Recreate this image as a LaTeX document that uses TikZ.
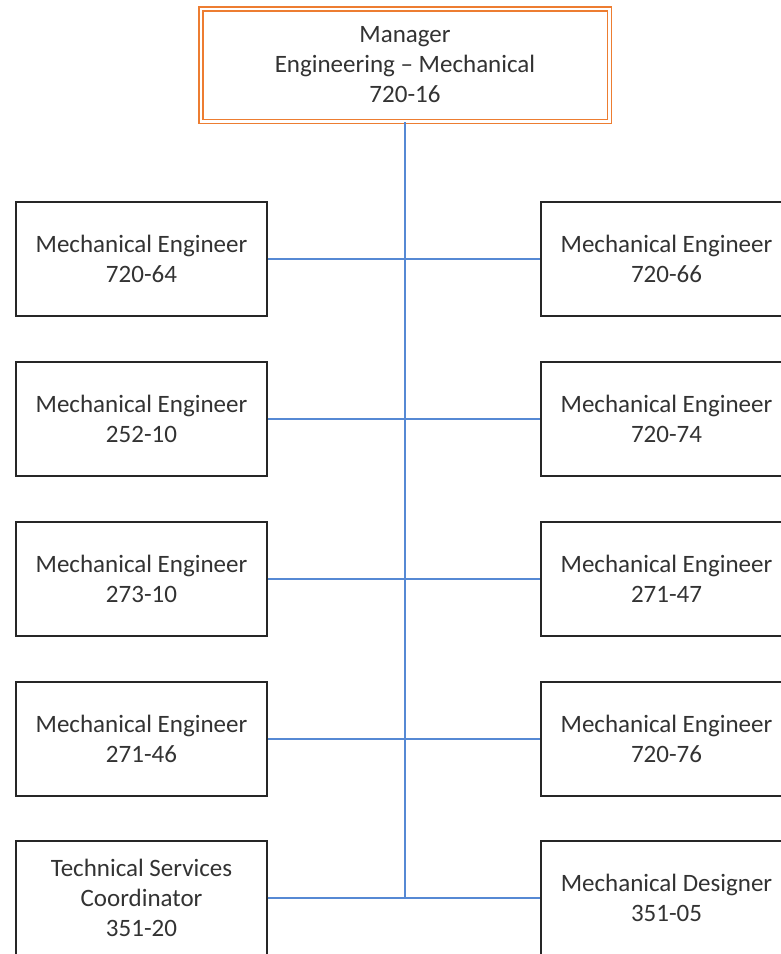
\documentclass[tikz,border=0pt]{standalone}
\usepackage{fontspec}
\setmainfont{Carlito}
\usepackage{tikz}

\definecolor{mgrorange}{RGB}{237,125,49}
\definecolor{linkblue}{RGB}{86,137,212}

\begin{document}
\begin{tikzpicture}[x=1pt,y=-1pt,
    post/.style={draw=black!85,line width=1.3pt,fill=white,inner sep=0pt,
        minimum width=251pt,minimum height=114pt,align=center,
        text=black!80,font=\fontsize{25}{30}\selectfont},
    head/.style={post,draw=mgrorange,line width=1.5pt,double=white,
        double distance=2.5pt,minimum width=408.5pt,minimum height=112.5pt},
    link/.style={draw=linkblue,line width=1.6pt}]
            \useasboundingbox (0,0) rectangle (781,954);
            \clip (0,0) rectangle (781,954);
            \node[head] at (405,65) (mgr) {Manager\\Engineering -- Mechanical\\720-16};
            \node[post] at (141.5,259) (l1) {Mechanical Engineer\\720-64};
            \node[post] at (141.5,419) (l2) {Mechanical Engineer\\252-10};
            \node[post] at (141.5,579) (l3) {Mechanical Engineer\\273-10};
            \node[post] at (141.5,739) (l4) {Mechanical Engineer\\271-46};
            \node[post] at (141.5,898) (l5) {Technical Services\\Coordinator\\351-20};
            \node[post] at (666.5,259) (r1) {Mechanical Engineer\\720-66};
            \node[post] at (666.5,419) (r2) {Mechanical Engineer\\720-74};
            \node[post] at (666.5,579) (r3) {Mechanical Engineer\\271-47};
            \node[post] at (666.5,739) (r4) {Mechanical Engineer\\720-76};
            \node[post] at (666.5,898) (r5) {Mechanical Designer\\351-05};
            \draw[link] (mgr) to (mgr |- l5);
            \draw[link] (l1.east) to (r1.west);
            \draw[link] (l2.east) to (r2.west);
            \draw[link] (l3.east) to (r3.west);
            \draw[link] (l4.east) to (r4.west);
            \draw[link] (l5.east) to (r5.west);
        \end{tikzpicture}
\end{document}
